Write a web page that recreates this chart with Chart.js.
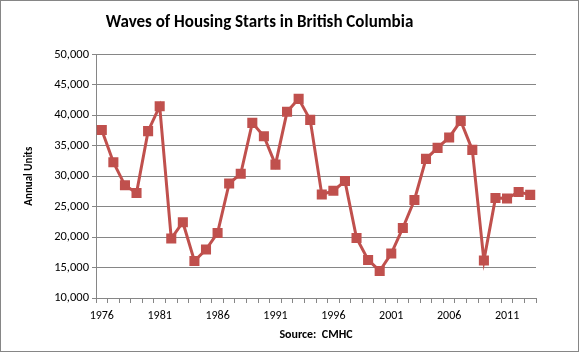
<!DOCTYPE html>
<html lang="en">
<head>
  <meta charset="UTF-8" />
  <title>Waves of Housing Starts in British Columbia</title>
  <script src="https://cdn.jsdelivr.net/npm/chart.js"></script>
  <style>
    body {
      margin: 0;
      background: #fff;
    }
    #box {
      width: 577px;
      height: 350px;
      border: 1px solid #868686;
    }
  </style>
</head>
<body>
  <div id="box"><canvas id="grafica" width="577" height="350"></canvas></div>

  <script>
    const years = [];
    for (let y = 1976; y <= 2013; y++) years.push(String(y));

    const starts = [
      37600, 32300, 28500, 27250, 37400, 41500, 19760, 22440, 16080, 17950,
      20680, 28800, 30400, 38760, 36570, 31900, 40570, 42700, 39250, 27000,
      27600, 29200, 19860, 16250, 14440, 17300, 21500, 26100, 32840, 34650,
      36360, 39090, 34320, 16150, 26430, 26330, 27420, 26930
    ];

    const yMin = 10000;
    const yMax = 50000;
    const yStep = 5000;

    const fontFam = 'Carlito, Calibri, "Liberation Sans", sans-serif';
    const gris = '#868686';
    const rojo = '#C0504D';

    const ctx = document.getElementById("grafica").getContext("2d");
    new Chart(ctx, {
      type: 'line',
      data: {
        labels: years,
        datasets: [{
          label: 'Housing starts',
          data: starts,
          borderColor: rojo,
          backgroundColor: rojo,
          borderWidth: 3,
          pointStyle: 'rect',
          pointRadius: 5,
          pointHoverRadius: 5,
          tension: 0,
          fill: false
        }]
      },
      options: {
        responsive: false,
        animation: false,
        // left padding negativo para centrar el titulo como en el original
        layout: { padding: { left: -18, right: 42, top: 0, bottom: 0 } },
        scales: {
          x: {
            offset: true,
            grid: {
              display: true,
              offset: true,
              drawOnChartArea: false,
              drawTicks: true,
              tickLength: 5,
              color: gris
            },
            border: { color: gris },
            ticks: {
              autoSkip: false,
              maxRotation: 0,
              padding: 6,
              color: '#000',
              font: { family: fontFam, size: 12 },
              callback: function(value, index) {
                return index % 5 === 0 ? this.getLabelForValue(value) : '';
              }
            },
            title: {
              display: true,
              text: 'Source:  CMHC',
              color: '#000',
              font: { family: fontFam, size: 12, weight: 'bold' },
              padding: { top: 0, bottom: 9 }
            },
            afterFit: function(scale) { scale.height = 53; }
          },
          y: {
            min: yMin,
            max: yMax,
            grid: { color: gris, tickLength: 4 },
            border: { color: gris },
            ticks: {
              stepSize: yStep,
              color: '#000',
              font: { family: fontFam, size: 12.5 },
              callback: function(value) {
                return value.toLocaleString('en-US');
              }
            },
            title: {
              display: true,
              text: 'Annual Units',
              color: '#000',
              font: { family: fontFam, size: 11, weight: 'bold' },
              padding: { top: 40, bottom: 0 }
            },
            afterFit: function(scale) { scale.width = 113; }
          }
        },
        plugins: {
          legend: { display: false },
          tooltip: { enabled: false },
          title: {
            display: true,
            text: 'Waves of Housing Starts in British Columbia',
            color: '#000',
            font: { family: fontFam, size: 17, weight: 'bold' },
            padding: { top: 12, bottom: 21 }
          }
        }
      }
    });
  </script>
</body>
</html>
